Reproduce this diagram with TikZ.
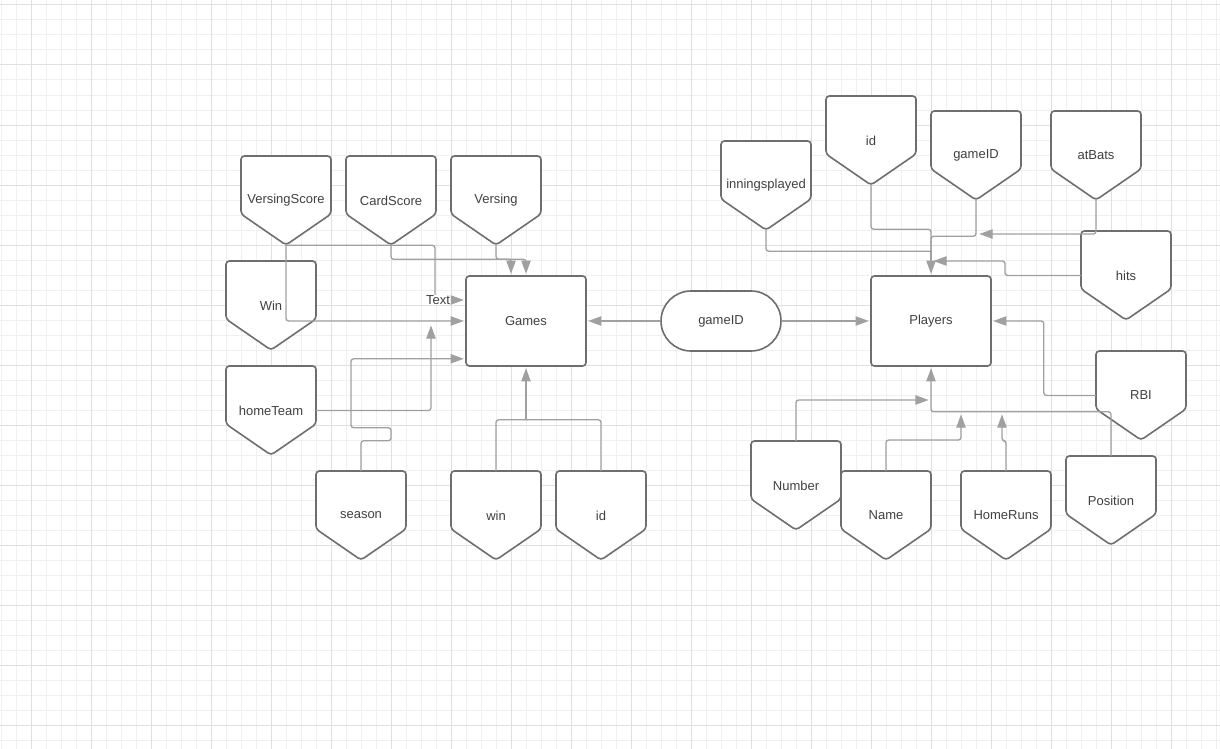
\documentclass[tikz,border=0pt]{standalone}
\usepackage{fontspec}
\setmainfont{Liberation Sans}
\usepackage{tikz}
\usetikzlibrary{arrows.meta,calc}
\definecolor{gridminor}{HTML}{F0F0F0}
\definecolor{gridmajor}{HTML}{E0E0E0}
\definecolor{shapeline}{HTML}{6E6E6E}
\definecolor{linkgray}{HTML}{A0A0A0}
\definecolor{textgray}{HTML}{404040}

\begin{document}
\begin{tikzpicture}[x=0.75pt,y=-0.75pt,line cap=round,line join=round,
  font=\fontsize{9.75}{11.7}\selectfont,text=textgray,
  >={Triangle[length=10pt,width=7pt]},
  attrline/.style={draw=shapeline,fill=white,line width=1.2pt,rounded corners=2.5pt},
  attr/.style={minimum width=67.5pt,minimum height=66.75pt,inner sep=0pt},
  entity/.style={draw=shapeline,fill=white,line width=1.2pt,rounded corners=2.5pt,minimum width=90pt,minimum height=67.5pt},
  link/.style={draw=linkgray,line width=1pt,rounded corners=2pt,->,shorten >=1pt},
  plain/.style={draw=linkgray,line width=1pt,rounded corners=2pt},
  lbl/.style={fill=white,inner sep=0.5pt}]

					\useasboundingbox (0,0) rectangle (1220,749);
					\fill[white] (0,0) rectangle (1220,749);
					
					% grid
					\foreach \x in {1,16,...,1216}
					\draw[gridminor,line width=0.75pt] (\x,0) -- (\x,749);
					\foreach \y in {5,20,...,740}
					\draw[gridminor,line width=0.75pt] (0,\y) -- (1220,\y);
					\foreach \x in {31,91,...,1171}
					\draw[gridmajor,line width=0.75pt] (\x,0) -- (\x,749);
					\foreach \y in {5,65,...,725}
					\draw[gridmajor,line width=0.75pt] (0,\y) -- (1220,\y);
					
					% attributes
					\foreach \n/\x/\y/\t in {vscore/286/156/VersingScore, cscore/391/156/CardScore, versing/496/156/Versing, gwinbig/271/261/Win, hteam/271/366/homeTeam, season/361/471/season, gwin/496/471/win, gid/601/471/id, innings/766/141/inningsplayed, pid/871/96/id, pgame/976/111/gameID, atbats/1096/111/atBats, hits/1126/231/hits, rbi/1141/351/RBI, number/796/441/Number, pname/886/471/Name, hruns/1006/471/HomeRuns, position/1111/456/Position}
					{
					\draw[attrline] (\x-45,\y) -- (\x+45,\y) -- (\x+45,\y+58) -- (\x,\y+89) -- (\x-45,\y+58) -- cycle;
					\node[attr] (\n) at (\x,\y+44.5) {\t};
					}
					
					% entities
					\node[entity] (games) at (526,321) {Games};
					\node[entity] (players) at (931,321) {Players};
					\node[entity,minimum height=45pt,rounded corners=22.5pt] (pill) at (721,321) {gameID};
					
					% Games side
					\draw[link] (vscore.south) |- (games.west);
					\coordinate (textbend) at (435,300);
					\draw[link] (vscore.south) -| (textbend) node[lbl,xshift=2.25pt] (textlbl) {Text} -- (games.west |- textbend);
					\draw[link] (cscore.south) -- ++(0,14) -| (games.north);
					\draw[link] (versing.south) -- ++(0,14) -| ($(games.north)+(-15,0)$);
					\coordinate (htend) at (431,324);
					\draw[link] (hteam.east) -| (htend);
					\draw[link] (season.north) |- ++(30,-30) |- ++(-40,-13) |- ($(games.south west)+(0,-8)$);
					\coordinate (gjoin) at ($(games.south)+(0,53)$);
					\draw[plain] (gwin.north) |- (gjoin);
					\draw[plain] (gid.north) |- (gjoin);
					\draw[link] (gjoin) -- (games.south);
					
					\draw[link] (pill.west) -- (games.east);
					\draw[link] (pill.east) -- (players.west);
					
					% Players side
					\coordinate (pjoin) at ($(players.north)+(0,-24)$);
					\draw[plain] (innings.south) |- (pjoin);
					\draw[plain] (pid.south) |- ($(pjoin)+(0,-22)$) -- (pjoin);
					\draw[plain] (pgame.south) |- ($(pjoin)+(0,-15)$) -- (pjoin);
					\draw[link] (pjoin) -- (players.north);
					\coordinate (abend) at (978,234);
					\draw[link] (atbats.south) |- (abend);
					\coordinate (hitsend) at (932,261);
					\draw[link] (hits.west) -| ($(hitsend)+(73,0)$) -- (hitsend);
					\draw[link] (rbi.west) -| ($(players.east)+(52,0)$) -- (players.east);
					\draw[link] (position.north) |- ($(players.south)+(0,45)$) -- (players.south);
					\coordinate (numend) at (930,400);
					\draw[link] (number.north) |- (numend);
					\coordinate (nameend) at (961,413);
					\draw[link] (pname.north) |- ($(nameend)+(0,27)$) -- (nameend);
					\coordinate (hrend) at (1002,413);
					\draw[link] (hruns.north) -- ++(0,-30) -| (hrend);
\end{tikzpicture}
\end{document}
